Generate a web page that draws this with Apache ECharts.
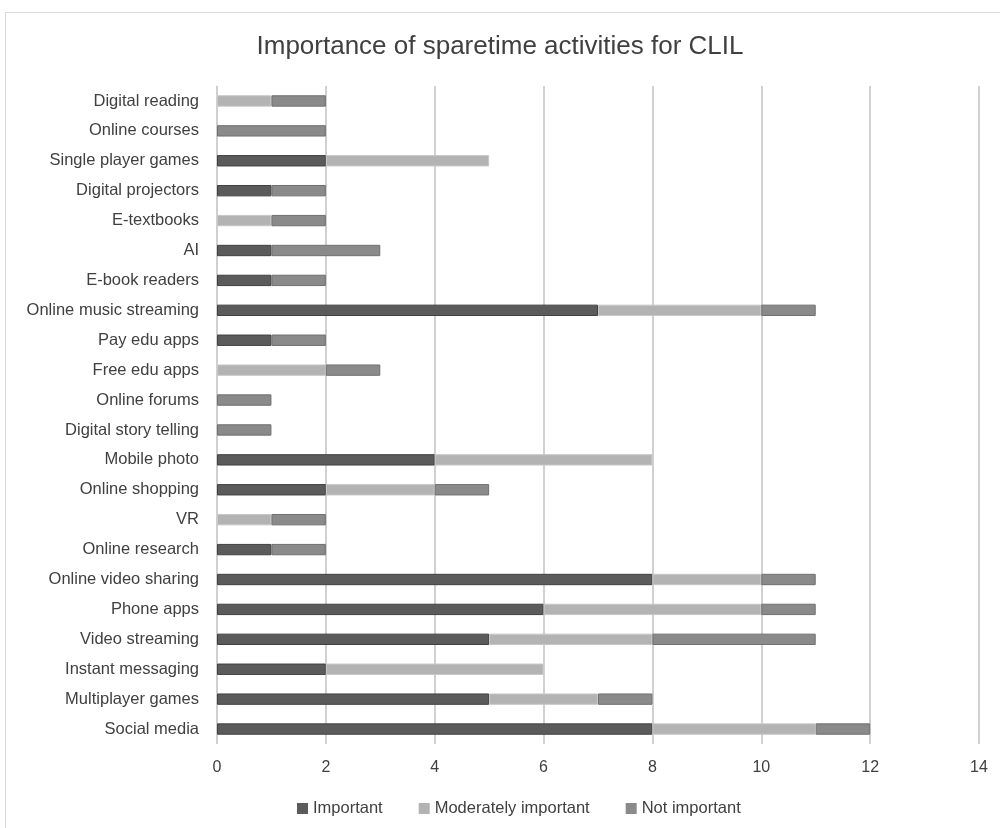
<!DOCTYPE html>
<html>
<head>
<meta charset="utf-8">
<script src="https://cdn.jsdelivr.net/npm/echarts@6/dist/echarts.min.js"></script>
<style>
  html, body { margin: 0; padding: 0; background: #fff; }
  #frame { position: absolute; left: 5px; top: 12px; width: 1100px; height: 900px; border: 1px solid #d9d9d9; }
  #chart { position: absolute; left: 0; top: 0; width: 1000px; height: 828px; }
</style>
</head>
<body>
<div id="frame"></div>
<div id="chart"></div>
<script>
// categories bottom -> top
const categories = [
  'Social media', 'Multiplayer games', 'Instant messaging', 'Video streaming',
  'Phone apps', 'Online video sharing', 'Online research', 'VR',
  'Online shopping', 'Mobile photo', 'Digital story telling', 'Online forums',
  'Free edu apps', 'Pay edu apps', 'Online music streaming', 'E-book readers',
  'AI', 'E-textbooks', 'Digital projectors', 'Single player games',
  'Online courses', 'Digital reading'
]
const important = [8, 5, 2, 5, 6, 8, 1, 0, 2, 4, 0, 0, 0, 1, 7, 1, 1, 0, 1, 2, 0, 0]
const moderately = [3, 2, 4, 3, 4, 2, 0, 1, 2, 4, 0, 0, 2, 0, 3, 0, 0, 1, 0, 3, 0, 1]
const notImportant = [1, 1, 0, 3, 1, 1, 1, 1, 1, 0, 1, 1, 1, 1, 1, 1, 2, 1, 1, 0, 2, 1]

const font = "'Liberation Sans', sans-serif"

const chart = echarts.init(document.getElementById('chart'))

function bar(name, data, color, border) {
  return {
    name: name,
    type: 'bar',
    stack: 'total',
    barWidth: '38%',
    itemStyle: { color: color, borderColor: border, borderWidth: 1 },
    // zero values are left empty so no border sliver is drawn
    data: data.map(v => (v === 0 ? '-' : v))
  }
}

chart.setOption({
  animation: false,
  title: {
    text: 'Importance of sparetime activities for CLIL',
    left: 'center',
    top: 29,
    textStyle: { fontFamily: font, fontSize: 26, fontWeight: 'normal', color: '#404040' }
  },
  legend: {
    bottom: 6,
    left: 292,
    itemWidth: 11,
    itemHeight: 11,
    itemGap: 36,
    icon: 'rect',
    itemStyle: { borderWidth: 0 },
    textStyle: { fontFamily: font, fontSize: 16.5, color: '#404040' },
    data: ['Important', 'Moderately important', 'Not important']
  },
  grid: { left: 217, right: 21, top: 86, bottom: 84 },
  xAxis: {
    type: 'value',
    min: 0,
    max: 14,
    interval: 2,
    axisLine: { show: false },
    axisTick: { show: false },
    axisLabel: { fontFamily: font, fontSize: 16, color: '#404040', margin: 16 },
    splitLine: { lineStyle: { color: '#d0d0d0', width: 2 } }
  },
  yAxis: {
    type: 'category',
    data: categories,
    axisLine: { show: false },
    axisTick: { show: false },
    axisLabel: { fontFamily: font, fontSize: 16.5, color: '#404040', margin: 18 }
  },
  series: [
    bar('Important', important, '#5b5b5b', '#404040'),
    bar('Moderately important', moderately, '#b3b3b3', '#c8c8c8'),
    bar('Not important', notImportant, '#8a8a8a', '#707070')
  ]
})
</script>
</body>
</html>
